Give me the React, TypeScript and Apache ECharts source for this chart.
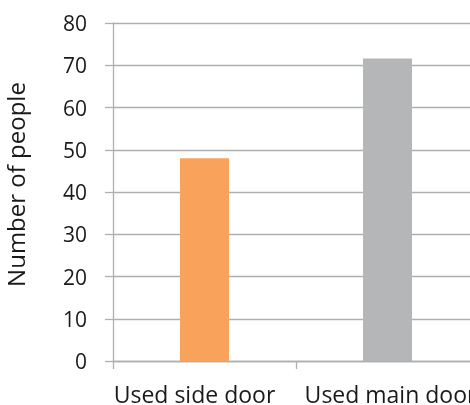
import React, { useEffect, useRef } from "react";
import * as echarts from "echarts";

const categories = ["Used side door", "Used main door"];
const values = [48, 71.6];
const barColors = ["#F9A25C", "#B5B6B8"];
const yTicks = { min: 0, max: 80, interval: 10 };
const yName = "Number of people";

export default function App() {
  const ref = useRef<HTMLDivElement>(null);
  useEffect(() => {
    if (!ref.current) return;
    const chart = echarts.init(ref.current, undefined, { renderer: "svg" });
    const font = "'Open Sans', 'Noto Sans', sans-serif";
    const labelStyle = { color: "#1a1a1a", fontSize: 23, fontFamily: font };
    chart.setOption({
      animation: false,
      grid: { left: 113, right: 0, top: 23, bottom: 44, containLabel: false, outerBoundsMode: "none" },
      xAxis: {
        type: "category",
        data: categories,
        axisLine: { show: true, lineStyle: { color: "#ADAFB1", width: 1.3 } },
        axisTick: { show: true, length: 8, alignWithLabel: false, lineStyle: { color: "#ADAFB1", width: 1.3 } },
        axisLabel: {
          ...labelStyle,
          margin: 21,
          hideOverlap: false,
          interval: 0,
          formatter: (v: string, i: number) => (i === 0 ? `{l|${v}}` : `{r|${v}}`),
          rich: {
            l: { ...labelStyle, padding: [0, 20, 0, 0] },
            r: { ...labelStyle, padding: [0, 0, 0, 6] },
          },
        },
        splitLine: { show: false },
      },
      yAxis: {
        type: "value",
        min: yTicks.min,
        max: yTicks.max,
        interval: yTicks.interval,
        name: yName,
        nameLocation: "middle",
        nameRotate: 90,
        nameGap: 86,
        nameTextStyle: { color: "#1a1a1a", fontSize: 24, fontFamily: font, padding: [0, 0, 0, 15] },
        axisLine: { show: true, lineStyle: { color: "#ADAFB1", width: 1.3 } },
        axisTick: { show: true, length: 8, lineStyle: { color: "#ADAFB1", width: 1.3 } },
        axisLabel: { color: "#1a1a1a", fontSize: 21, fontFamily: font, margin: 26, padding: [7, 0, 0, 0] },
        splitLine: { show: true, lineStyle: { color: "#ADAFB1", width: 1.3 } },
      },
      series: [
        {
          type: "bar",
          data: values.map((v, i) => ({ value: v, itemStyle: { color: barColors[i] } })),
          barWidth: 49,
        },
      ],
    });
    return () => chart.dispose();
  }, []);
  return <div ref={ref} style={{ position: "fixed", left: 0, top: 0, width: 479, height: 405 }} />;
}
